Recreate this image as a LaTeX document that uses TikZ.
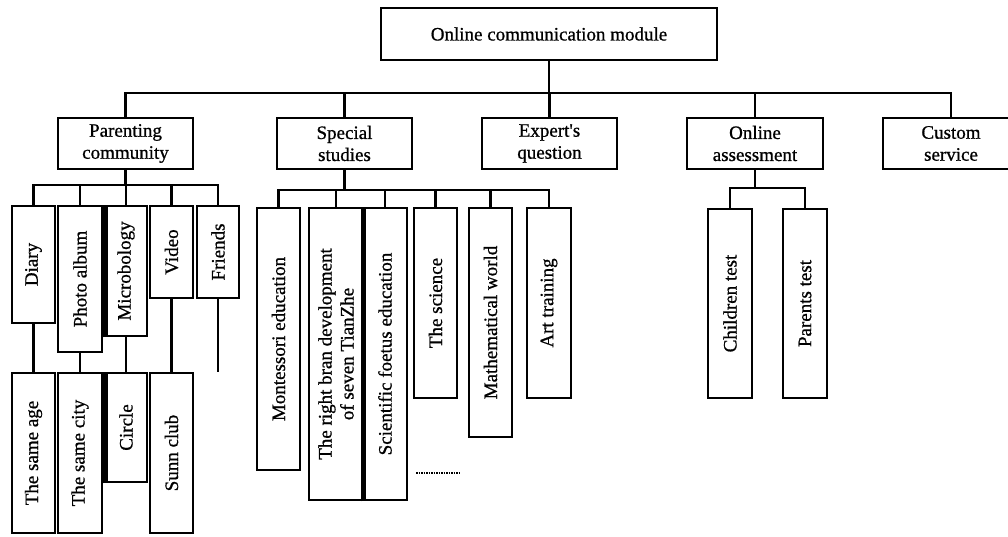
\documentclass[tikz,border=0pt]{standalone}
\usepackage{fontspec}
\setmainfont{Liberation Serif}
\newfontfamily\dgfont[UprightFeatures={FakeBold=0.8}]{Liberation Serif}
\begin{document}
\begin{tikzpicture}[x=1pt,y=-1pt,
  box/.style={draw, line width=2.5pt, inner sep=0pt, align=center, font=\dgfont\fontsize{19}{22}\selectfont},
  vbox/.style={box, rotate=90},
  link/.style={line width=2.5pt},
  thickedge/.style={line width=5pt}]
\useasboundingbox (0,0) rectangle (1008,537);
% top
\node[box, minimum width=336, minimum height=52] (top) at (549,34) {Online communication module};
% level 1
\node[box, minimum width=135, minimum height=51] (pc) at (125.5,143.5) {Parenting\\community};
\node[box, minimum width=135, minimum height=51] (ss) at (344.5,143.5) {Special\\studies};
\node[box, minimum width=135, minimum height=51] (eq) at (549.5,143.5) {Expert\textquotesingle s\\question};
\node[box, minimum width=136, minimum height=51] (oa) at (755,143.5) {Online\\assessment};
\node[box, minimum width=136, minimum height=51] (cs) at (951,143.5) {Custom\\service};
% parenting children
\node[vbox, minimum width=117, minimum height=43] (diary) at (33.5,264.5) {Diary};
\node[vbox, minimum width=146, minimum height=44] (album) at (80,279) {Photo album};
\node[vbox, minimum width=130, minimum height=42] (micro) at (126,271) {Microbology};
\node[vbox, minimum width=92, minimum height=43] (video) at (171.5,252) {Video};
\node[vbox, minimum width=92, minimum height=42] (friends) at (218,252) {Friends};
% level 3
\node[vbox, minimum width=160, minimum height=43] (age) at (33.5,453) {The same age};
\node[vbox, minimum width=160, minimum height=44] (city) at (80,453) {The same city};
\node[vbox, minimum width=109, minimum height=42] (circle) at (126,427.5) {Circle};
\node[vbox, minimum width=160, minimum height=43] (sunn) at (171.5,453) {Sunn club};
\coordinate (fstub) at (218,372);
% special studies children
\node[vbox, minimum width=262, minimum height=43] (mont) at (278.5,339) {Montessori education};
\node[vbox, minimum width=292, minimum height=54] (bran) at (336,354) {The right bran development\\of seven TianZhe};
\node[vbox, minimum width=292, minimum height=44] (sci) at (385,354) {Scientific foetus education};
\node[vbox, minimum width=190, minimum height=43] (science) at (435.5,303) {The science};
\node[vbox, minimum width=229, minimum height=43] (math) at (490.5,322.5) {Mathematical world};
\node[vbox, minimum width=190, minimum height=44] (art) at (549,303) {Art training};
\coordinate (d1) at (416,473);
\coordinate (d2) at (461,473);
% online assessment children
\node[vbox, minimum width=189, minimum height=44] (child) at (730,303.5) {Children test};
\node[vbox, minimum width=189, minimum height=44] (parent) at (805,303.5) {Parents test};
% thick left edges
\foreach \n in {micro,circle,sci}
  \draw[thickedge] ([xshift=1.25pt]\n.north west) -- ([xshift=1.25pt]\n.north east);
% top bus
\coordinate (b0) at (549,93);
\draw[link] (top.south) -- (b0);
\draw[link] (pc.north) |- (b0 -| cs.north) -- (cs.north);
\foreach \n in {ss,eq,oa} \draw[link] (\n.north) -- (\n.north |- b0);
% parenting bus
\coordinate (b1) at (125.5,185);
\draw[link] (pc.south) -- (b1);
\draw[link] (diary.east) |- (b1 -| friends.east) -- (friends.east);
\foreach \n in {album,micro,video} \draw[link] (\n.east) -- (\n.east |- b1);
\draw[link] (diary.west) -- (age.east);
\draw[link] (album.west) -- (city.east);
\draw[link] (micro.west) -- (circle.east);
\draw[link] (video.west) -- (sunn.east);
\draw[link] (friends.west) -- (fstub);
% special studies bus
\coordinate (b2) at (343,190);
\draw[link] (ss.south) -- (ss.south |- b2);
\draw[link] (mont.east) |- (b2 -| art.east) -- (art.east);
\foreach \n in {bran,sci,science,math} \draw[link] (\n.east) -- (\n.east |- b2);
\draw[line width=2pt, dash pattern=on 1.5pt off 1pt] (d1) -- (d2);
% online assessment bus
\coordinate (b3) at (755,188);
\draw[link] (oa.south) -- (b3);
\draw[link] (child.east) |- (b3 -| parent.east) -- (parent.east);
\end{tikzpicture}
\end{document}
